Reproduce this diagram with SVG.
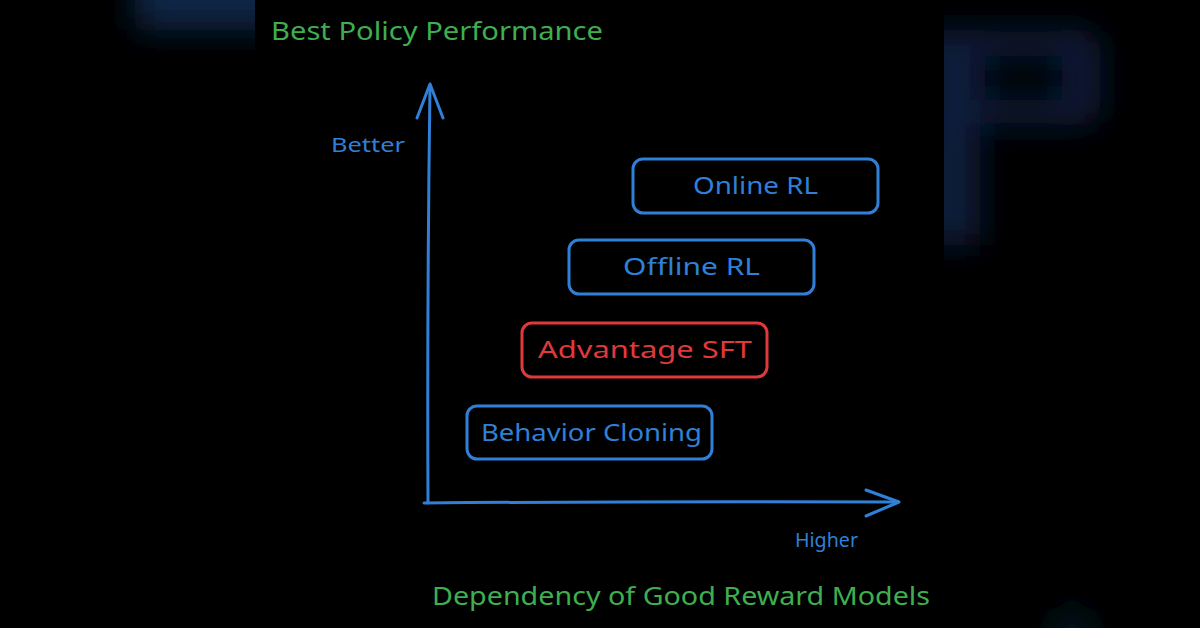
<svg xmlns="http://www.w3.org/2000/svg" width="1200" height="628" viewBox="0 0 1200 628">
  <defs>
    <filter id="blur" x="-50%" y="-50%" width="200%" height="200%">
      <feGaussianBlur stdDeviation="16"/>
    </filter>
    <clipPath id="leftClip"><rect x="0" y="0" width="255" height="628"/></clipPath>
    <clipPath id="rightClip"><rect x="944" y="0" width="256" height="628"/></clipPath>
    <style>
      .t { font-family: "Noto Sans", "Liberation Sans", sans-serif; }
      .green { fill: #3fae4f; }
      .blue { fill: #2f80d6; }
      .red { fill: #e0393c; }
      .box { fill: none; stroke-width: 3; }
      .bbox { stroke: #2f80d6; }
      .rbox { stroke: #e0393c; }
      .axis { fill: none; stroke: #2f80d6; stroke-width: 3; stroke-linecap: round; stroke-linejoin: round; }
    </style>
  </defs>
  <rect x="0" y="0" width="1200" height="628" fill="#000000"/>
  <g id="background">
    <g clip-path="url(#leftClip)">
      <rect x="135" y="-40" width="160" height="70" rx="8" fill="#0c2646" filter="url(#blur)"/>
    </g>
    <g clip-path="url(#rightClip)" filter="url(#blur)">
      <path d="M 920 30 L 1080 30 Q 1100 30 1100 50 L 1100 105 Q 1100 125 1080 125 L 980 125 L 980 245 L 920 245 Z M 985 58 L 985 98 L 1062 98 L 1062 58 Z" fill="#0a1f3a" fill-rule="evenodd"/>
      <ellipse cx="1072" cy="650" rx="25" ry="45" fill="#06121f"/>
    </g>
  </g>
  <g id="axes-labels">
    <text class="t green" x="271" y="40" font-size="25" textLength="332" lengthAdjust="spacingAndGlyphs">Best Policy Performance</text>
    <text class="t blue" x="331" y="152" font-size="20" textLength="74" lengthAdjust="spacingAndGlyphs">Better</text>
    <text class="t blue" x="795" y="547" font-size="19" textLength="63" lengthAdjust="spacingAndGlyphs">Higher</text>
    <text class="t green" x="432" y="605" font-size="25" textLength="498" lengthAdjust="spacingAndGlyphs">Dependency of Good Reward Models</text>
  </g>
  <g id="connectors">
    <path class="axis" d="M 428 503 Q 427 300 430 85"/>
    <polyline class="axis" points="417,118 430,84 443,118"/>
    <path class="axis" d="M 424 503 Q 660 501 898 502"/>
    <polyline class="axis" points="866,490 899,502 866,516"/>
  </g>
  <g id="node-online-rl">
    <rect class="box bbox" x="633" y="159" width="245" height="54" rx="10"/>
    <text class="t blue" x="755.5" y="194" font-size="24" text-anchor="middle" textLength="125" lengthAdjust="spacingAndGlyphs">Online RL</text>
  </g>
  <g id="node-offline-rl">
    <rect class="box bbox" x="569" y="240" width="245" height="54" rx="10"/>
    <text class="t blue" x="691.5" y="275" font-size="24" text-anchor="middle" textLength="137" lengthAdjust="spacingAndGlyphs">Offline RL</text>
  </g>
  <g id="node-advantage-sft">
    <rect class="box rbox" x="522" y="323" width="245" height="54" rx="10"/>
    <text class="t red" x="645" y="358" font-size="24" text-anchor="middle" textLength="214" lengthAdjust="spacingAndGlyphs">Advantage SFT</text>
  </g>
  <g id="node-behavior-cloning">
    <rect class="box bbox" x="467" y="406" width="245" height="53" rx="10"/>
    <text class="t blue" x="591.5" y="441" font-size="24" text-anchor="middle" textLength="221" lengthAdjust="spacingAndGlyphs">Behavior Cloning</text>
  </g>
</svg>
